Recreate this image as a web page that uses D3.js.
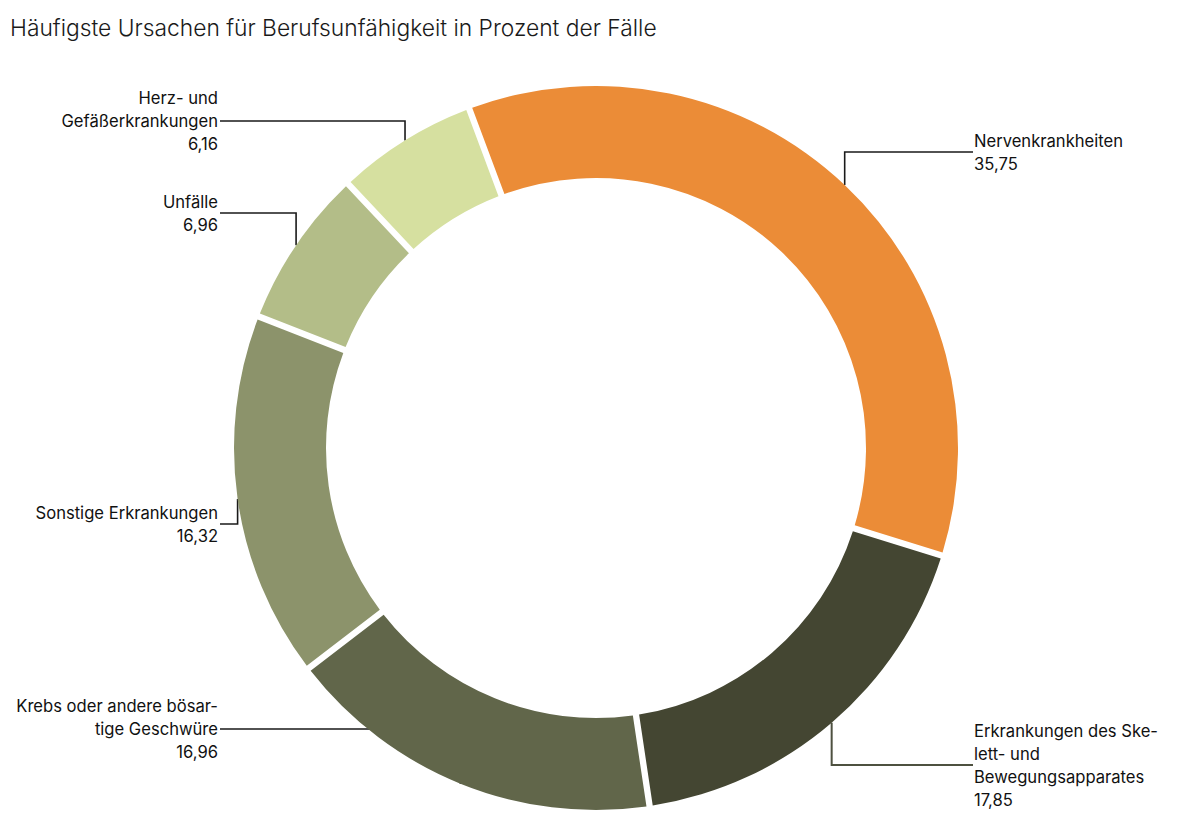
<!DOCTYPE html>
<html>
<head>
<meta charset="utf-8">
<script src="https://cdn.jsdelivr.net/npm/d3@7"></script>
<style>
  body { margin: 0; background: #fff; }
  svg { display: block; font-family: Inter, "Noto Sans", sans-serif; }
</style>
</head>
<body>
<svg id="chart" width="1179" height="826"></svg>
<script>
// Daten
const categories = [
  "Nervenkrankheiten",
  "Erkrankungen des Skelett- und Bewegungsapparates",
  "Krebs oder andere bösartige Geschwüre",
  "Sonstige Erkrankungen",
  "Unfälle",
  "Herz- und Gefäßerkrankungen"
];
const labelLines = [
  ["Nervenkrankheiten"],
  ["Erkrankungen des Ske-", "lett- und", "Bewegungsapparates"],
  ["Krebs oder andere bösar-", "tige Geschwüre"],
  ["Sonstige Erkrankungen"],
  ["Unfälle"],
  ["Herz- und", "Gefäßerkrankungen"]
];
const values = [35.75, 17.85, 16.96, 16.32, 6.96, 6.16];
const colors = ["#eb8c37", "#444632", "#61664a", "#8c936b", "#b3bd88", "#d6e0a0"];
const leaderColors = ["#1a1a1a", "#4e5140", "#1a1a1a", "#1a1a1a", "#1a1a1a", "#1a1a1a"];

// Layout
const cx = 596, cy = 448;
const outerR = 362, innerR = 270;
const startDeg = -20.5;
const labelMidY = [152, 765, 729, 524, 213, 121];
const lineH = 23;
const leftX = 218, rightX = 974;

const data = categories.map((c, i) => ({ name: c, value: values[i], lines: labelLines[i], i }));

const svg = d3.select("#chart");

svg.append("text")
  .attr("x", 10).attr("y", 36)
  .attr("font-size", 22.8).attr("font-weight", 300)
  .attr("fill", "#1a1a1a")
  .text("Häufigste Ursachen für Berufsunfähigkeit in Prozent der Fälle");

const rad = Math.PI / 180;
const pie = d3.pie().value(d => d.value).sort(null)
  .startAngle(startDeg * rad).endAngle((startDeg + 360) * rad)
  .padAngle(0.014);
const arcs = pie(data);
const arc = d3.arc().innerRadius(innerR).outerRadius(outerR);

const fmt = d3.formatLocale({ decimal: ",", thousands: ".", grouping: [3], currency: ["", "€"] }).format(".2f");

const g = svg.append("g").attr("transform", `translate(${cx},${cy})`);

// Führungslinien (unter dem Ring)
const gLeaders = g.append("g");
arcs.forEach(a => {
  const mid = (a.startAngle + a.endAngle) / 2;
  const px = outerR * Math.sin(mid);
  const py = -outerR * Math.cos(mid);
  const right = px > 0;
  const ly = labelMidY[a.data.i] - cy;
  const lx = (right ? rightX - 1 : leftX + 2) - cx;
  gLeaders.append("path")
    .attr("d", `M${px},${py}V${ly}H${lx}`)
    .attr("fill", "none")
    .attr("stroke", leaderColors[a.data.i])
    .attr("stroke-width", a.data.i === 1 ? 2 : 1.6);
});

// Ring
g.append("g").selectAll("path")
  .data(arcs)
  .join("path")
  .attr("d", arc)
  .attr("fill", d => colors[d.data.i]);

// Beschriftungen
const gLabels = svg.append("g").attr("font-size", 16.6).attr("fill", "#111");
arcs.forEach(a => {
  const mid = (a.startAngle + a.endAngle) / 2;
  const right = Math.sin(mid) > 0;
  const lines = a.data.lines.concat([fmt(a.data.value)]);
  const n = lines.length;
  const y0 = labelMidY[a.data.i] - (n - 1) * lineH / 2;
  const t = gLabels.append("text")
    .attr("text-anchor", right ? "start" : "end");
  lines.forEach((l, k) => {
    t.append("tspan")
      .attr("x", right ? rightX : leftX)
      .attr("y", y0 + k * lineH + 6)
      .text(l);
  });
});
</script>
</body>
</html>
